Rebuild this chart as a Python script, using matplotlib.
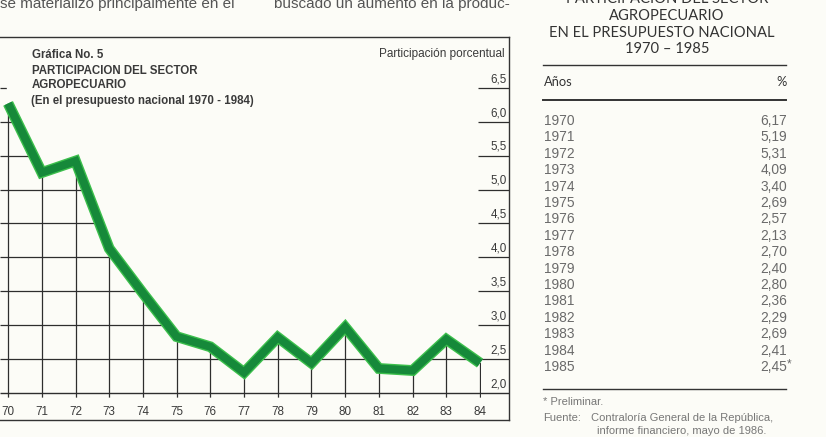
import matplotlib.pyplot as plt
from matplotlib.patches import Polygon

# chart values (Grafica No. 5)
years = [70, 71, 72, 73, 74, 75, 76, 77, 78, 79, 80, 81, 82, 83, 84]
chart_vals = [6.27, 5.25, 5.42, 4.13, 3.47, 2.83, 2.68, 2.30, 2.82, 2.44, 2.97, 2.36, 2.33, 2.79, 2.44]
y_levels = [2.0, 2.5, 3.0, 3.5, 4.0, 4.5, 5.0, 5.5, 6.0, 6.5]
y_labels = ['2,0', '2,5', '3,0', '3,5', '4,0', '4,5', '5,0', '5,5', '6,0', '6,5']

# table on the right
tab_years = ['1970', '1971', '1972', '1973', '1974', '1975', '1976', '1977',
             '1978', '1979', '1980', '1981', '1982', '1983', '1984', '1985']
tab_vals = ['6,17', '5,19', '5,31', '4,09', '3,40', '2,69', '2,57', '2,13',
            '2,70', '2,40', '2,80', '2,36', '2,29', '2,69', '2,41', '2,45']

W, H = 826, 437
bg = '#fcfcf7'
ink = '#3a3a3a'
fig = plt.figure(figsize=(W / 100, H / 100), dpi=100, facecolor=bg)


def px(x, y):
    return x / W, 1 - y / H


# --- chart -----------------------------------------------------------
xmin, xmax = 69.76, 84.86
ymin, ymax = 1.60, 7.25
ax = fig.add_axes([0, 17 / H, 509 / W, 383 / H])
ax.set_facecolor(bg)
ax.set_xlim(xmin, xmax)
ax.set_ylim(ymin, ymax)
ax.set_xticks([])
ax.set_yticks([])
ax.spines['left'].set_visible(False)
for s in ['top', 'right', 'bottom']:
    ax.spines[s].set_color('#333333')
    ax.spines[s].set_linewidth(1.0)

# grid only under the curve
verts = [(xmin, 1.93), (xmin, 6.56), (years[0] - 0.05, 6.56)]
verts += list(zip(years, chart_vals))
verts += [(years[-1] + 0.03, chart_vals[-1]), (years[-1] + 0.03, 1.93)]
clip = Polygon(verts, closed=True, transform=ax.transData)

vl = ax.vlines(years, 1.93, max(chart_vals), color='#2e2e2e', lw=0.9)
vl.set_clip_path(clip)
hl = ax.hlines(y_levels[1:], xmin, years[-1] + 0.03, color='#2e2e2e', lw=0.9)
hl.set_clip_path(clip)

# baseline and right-hand stubs
ax.hlines(y_levels[0], xmin, xmax, color='#2e2e2e', lw=1.0)
ax.hlines(y_levels[1:], 83.95, xmax, color='#2e2e2e', lw=0.9)
for v, lab in zip(y_levels, y_labels):
    ax.text(84.80, v + 0.04, lab, ha='right', va='bottom', fontsize=8.4,
            color=ink, family='Liberation Sans')

for yr in years:
    ax.text(yr, 1.72, str(yr), ha='center', va='center', fontsize=8.4,
            color=ink, family='Liberation Sans')

ax.plot(years, chart_vals, color='#3cbf4c', lw=7.8, solid_joinstyle='miter',
        solid_capstyle='butt', zorder=5)
ax.plot(years, chart_vals, color='#16893a', lw=5.8, solid_joinstyle='miter',
        solid_capstyle='butt', zorder=6)

tkw = dict(fontsize=8.3, color=ink, family='Liberation Sans', fontweight='bold',
           ha='left', va='center')
fig.text(*px(32, 55), 'Gráfica No. 5', **tkw)
fig.text(*px(32, 71), 'PARTICIPACION DEL SECTOR', **tkw)
fig.text(*px(32, 85), 'AGROPECUARIO', **tkw)
fig.text(*px(31, 101), '(En el presupuesto nacional 1970 - 1984)', **tkw)
fig.text(*px(505, 54), 'Participación porcentual', fontsize=8.5, color=ink,
         family='Liberation Sans', ha='right', va='center')

# --- cut-off paragraph text at the top -------------------------------
fig.text(*px(0, 8), 'se materializó principalmente en el', fontsize=11,
         color='#555555', family='Liberation Sans', ha='left', va='baseline')
fig.text(*px(274, 8), 'buscado un aumento en la produc-', fontsize=11,
         color='#555555', family='Liberation Sans', ha='left', va='baseline')

# --- table -----------------------------------------------------------
hkw = dict(fontsize=10.6, color='#333333', family='Lato', ha='center', va='center')
fig.text(*px(667, -1), 'PARTICIPACION DEL SECTOR', **hkw)
fig.text(*px(667, 16), 'AGROPECUARIO', **hkw)
fig.text(*px(662, 33), 'EN EL PRESUPUESTO NACIONAL', **hkw)
fig.text(*px(667, 49), '1970 – 1985', **hkw)

for yy, lw in [(65, 1.0), (100, 1.4), (389, 1.0)]:
    fig.add_artist(plt.Line2D([543 / W, 786 / W], [1 - yy / H] * 2,
                              color='#333333', lw=lw))
fig.text(*px(544, 82), 'Años', fontsize=9.3, color='#333333', family='Lato',
         ha='left', va='center')
fig.text(*px(787, 82), '%', fontsize=9.3, color='#333333', family='Lato',
         ha='right', va='center')

for i, (yr, val) in enumerate(zip(tab_years, tab_vals)):
    yy = 121 + i * 16.4
    fig.text(*px(544, yy), yr, fontsize=9.9, color='#6a6a6a',
             family='Liberation Sans', ha='left', va='center')
    fig.text(*px(787, yy), val, fontsize=9.9, color='#6a6a6a',
             family='Liberation Sans', ha='right', va='center')
fig.text(*px(787, 364), '*', fontsize=8.5, color='#6a6a6a',
         family='Liberation Sans', ha='left', va='center')

nkw = dict(fontsize=8.0, color='#777777', family='Liberation Sans', va='center')
fig.text(*px(543, 402), '* Preliminar.', ha='left', **nkw)
fig.text(*px(543, 418), 'Fuente:', ha='left', **nkw)
fig.text(*px(591, 418), 'Contraloría General de la República,', ha='left', **nkw)
fig.text(*px(597, 431), 'informe financiero, mayo de 1986.', ha='left', **nkw)

fig.savefig('out.png', dpi=100, facecolor=bg)
